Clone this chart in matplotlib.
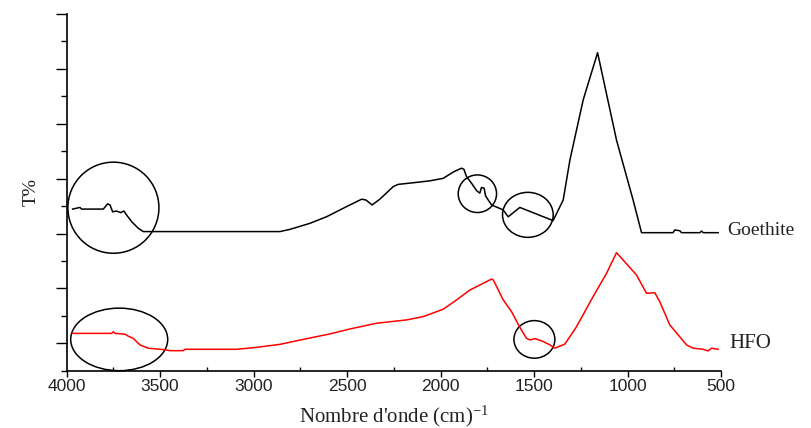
import matplotlib
matplotlib.use("Agg")
import matplotlib.pyplot as plt
from matplotlib.patches import Ellipse
from matplotlib.ticker import MultipleLocator

# ---- data (wavenumber in cm-1, transmittance in arbitrary offset units) ----
goethite_wn = [3968, 3929, 3920, 3804, 3781, 3768, 3754, 3733, 3711, 3694, 3679,
               3652, 3617, 3590, 2859, 2806, 2699, 2610, 2503, 2422, 2399, 2366,
               2325, 2253, 2227, 2146, 2057, 1986, 1932, 1888, 1875, 1861, 1834,
               1807, 1790, 1781, 1767, 1759, 1745, 1727, 1665, 1638, 1576, 1398,
               1344, 1308, 1237, 1160, 1059, 970, 925, 756, 747, 720, 711, 613,
               604, 595, 515]
goethite_t = [5.89, 5.95, 5.89, 5.89, 6.08, 6.04, 5.79, 5.82, 5.76, 5.82, 5.67,
              5.43, 5.19, 5.07, 5.07, 5.15, 5.37, 5.61, 5.98, 6.25, 6.22, 6.04,
              6.25, 6.71, 6.79, 6.85, 6.92, 7.01, 7.24, 7.38, 7.34, 7.07, 6.83,
              6.56, 6.47, 6.68, 6.65, 6.37, 6.22, 6.04, 5.86, 5.61, 5.95, 5.47,
              6.22, 7.68, 9.87, 11.59, 8.41, 6.22, 5.03, 5.03, 5.13, 5.10, 5.03,
              5.03, 5.09, 5.03, 5.03]

hfo_wn = [3970, 3759, 3751, 3742, 3688, 3671, 3644, 3608, 3564, 3483, 3448,
          3376, 3367, 3091, 2984, 2859, 2735, 2592, 2485, 2342, 2182, 2093,
          1986, 1914, 1843, 1727, 1718, 1665, 1620, 1576, 1540, 1521, 1494,
          1450, 1415, 1389, 1335, 1273, 1184, 1112, 1059, 1023, 952, 898, 854,
          827, 774, 684, 649, 596, 569, 551, 515]
hfo_t = [1.36, 1.36, 1.42, 1.36, 1.33, 1.26, 1.18, 0.94, 0.82, 0.77, 0.73,
         0.73, 0.78, 0.78, 0.85, 0.96, 1.14, 1.34, 1.52, 1.73, 1.85, 1.97,
         2.24, 2.58, 2.94, 3.34, 3.31, 2.58, 2.15, 1.58, 1.18, 1.12, 1.17,
         1.06, 0.94, 0.82, 0.97, 1.60, 2.70, 3.55, 4.30, 4.03, 3.49, 2.82, 2.84,
         2.51, 1.67, 0.94, 0.82, 0.78, 0.72, 0.82, 0.78]

series_labels = ["Goethite", "HFO"]
x_ticks = [4000, 3500, 3000, 2500, 2000, 1500, 1000, 500]

# annotation circles: (center wn, center T, width wn, height T)
circles = [(3750, 5.94, 487, 3.32),
           (3719, 1.14, 519, 2.28),
           (1803, 6.45, 205, 1.37),
           (1533, 5.68, 271, 1.64),
           (1498, 1.14, 219, 1.37)]

# ---- figure ----
plt.rcParams['font.family'] = ['Liberation Serif', 'DejaVu Serif']
plt.rcParams['mathtext.fontset'] = 'custom'
plt.rcParams['mathtext.rm'] = 'Liberation Serif'
plt.rcParams['mathtext.it'] = 'Liberation Serif'

fig = plt.figure(figsize=(8.12, 4.28), dpi=100)
ax = fig.add_axes([0.0821, 0.1339, 0.8058, 0.8334])

ax.plot(goethite_wn, goethite_t, color='black', lw=1.1)
ax.plot(hfo_wn, hfo_t, color='#ff0000', lw=1.1)

for (cx, cy, w, h) in circles:
    ax.add_patch(Ellipse((cx, cy), w, h, fill=False, edgecolor='black',
                         lw=1.1, clip_on=False))

ax.annotate(series_labels[0], xy=(goethite_wn[-1], goethite_t[-1]),
            xytext=(9, 2), textcoords='offset pixels', ha='left', va='center',
            fontsize=14, color='#222222', annotation_clip=False)
ax.annotate(series_labels[1], xy=(hfo_wn[-1], hfo_t[-1]),
            xytext=(11, 6), textcoords='offset pixels', ha='left', va='center',
            fontsize=15, color='#222222', annotation_clip=False)

ax.set_xlim(4000, 500)
ax.set_ylim(0, 13)
ax.set_xticks(x_ticks)
ax.set_xticklabels([str(t) for t in x_ticks], family='Liberation Sans',
                   fontsize=12.5, color='#222222')
ax.xaxis.set_minor_locator(MultipleLocator(250))
ax.set_yticks([1, 3, 5, 7, 9, 11, 13])
ax.yaxis.set_minor_locator(MultipleLocator(2))
ax.set_yticklabels([])

ax.tick_params(axis='x', which='major', direction='out', length=4, width=1,
               pad=2)
ax.tick_params(axis='x', which='minor', direction='in', length=3, width=1)
ax.tick_params(axis='y', which='major', direction='out', length=8, width=1)
ax.tick_params(axis='y', which='minor', direction='out', length=4.5, width=1)

for s in ['top', 'right']:
    ax.spines[s].set_visible(False)
for s in ['left', 'bottom']:
    ax.spines[s].set_linewidth(1.2)

ax.set_xlabel("Nombre d'onde (cm)$^{-1}$", fontsize=15, color='#222222',
              labelpad=7)
ax.set_ylabel("T%", fontsize=14, color='#222222', labelpad=8)

fig.savefig("out.png", dpi=100)
